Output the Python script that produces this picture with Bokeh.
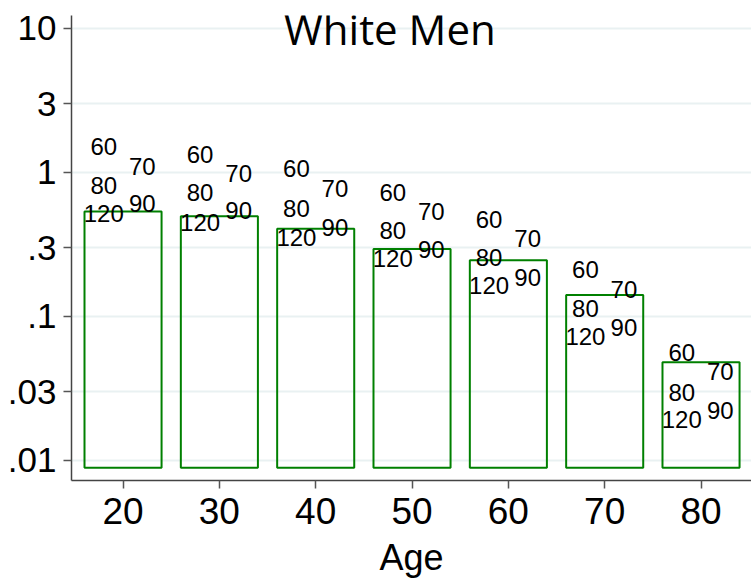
from bokeh.plotting import figure
from bokeh.models import ColumnDataSource, FixedTicker, Range1d, Label
from bokeh.core.properties import value
from bokeh.embed import file_html
from bokeh.resources import INLINE

# Age groups and the bar heights (rate, log scale)
ages = [20, 30, 40, 50, 60, 70, 80]
bar_tops = [0.536, 0.497, 0.406, 0.294, 0.246, 0.141, 0.048]
bar_base = 0.0089

# Rates by blood-pressure level, drawn as text markers per age group
bp_levels = ["60", "70", "80", "90", "120"]
rates = {
    "60":  [1.52, 1.33, 1.06, 0.730, 0.472, 0.211, 0.056],
    "70":  [1.106, 0.989, 0.774, 0.536, 0.350, 0.153, 0.0415],
    "80":  [0.812, 0.730, 0.560, 0.396, 0.258, 0.113, 0.0298],
    "90":  [0.606, 0.545, 0.415, 0.291, 0.187, 0.0835, 0.0222],
    "120": [0.522, 0.452, 0.355, 0.254, 0.164, 0.073, 0.0192],
}
# left / right column of each bar for the text markers
label_side = {"60": -2.0, "80": -2.0, "120": -2.0, "70": 2.0, "90": 2.0}

y_ticks = [0.01, 0.03, 0.1, 0.3, 1, 3, 10]
y_tick_labels = [".01", ".03", ".1", ".3", "1", "3", "10"]

p = figure(
    width=751, height=581,
    x_range=Range1d(14.65, 85.24),
    y_range=Range1d(0.00726, 12.3),
    y_axis_type="log",
    output_backend="svg", toolbar_location=None,
    min_border_left=71, min_border_right=0,
    min_border_top=15, min_border_bottom=101,
)
p.outline_line_color = None
p.background_fill_color = "white"
p.border_fill_color = "white"

# bars
src = ColumnDataSource(dict(age=ages, top=bar_tops, bottom=[bar_base] * len(ages)))
p.vbar(x="age", top="top", bottom="bottom", width=8, source=src,
       fill_color=None, line_color="#008000", line_width=2)

# text markers
for lvl in bp_levels:
    s = ColumnDataSource(dict(x=[a + label_side[lvl] for a in ages], y=rates[lvl],
                              t=[lvl] * len(ages)))
    p.text(x="x", y="y", text="t", source=s,
           text_font=value("Liberation Sans"), text_font_size="24px",
           text_align="center", text_baseline="middle", text_color="black")

# axes
p.yaxis.ticker = FixedTicker(ticks=y_ticks)
p.yaxis.major_label_overrides = {t: l for t, l in zip(y_ticks, y_tick_labels)}
p.xaxis.ticker = FixedTicker(ticks=ages)
for ax in (p.xaxis, p.yaxis):
    ax.major_label_text_font = "Liberation Sans"
    ax.major_label_text_color = "black"
    ax.axis_line_color = "#444444"
    ax.axis_line_width = 1.5
    ax.major_tick_line_color = "#555555"
    ax.major_tick_line_width = 1.5
    ax.major_tick_out = 8
    ax.major_tick_in = 0
    ax.minor_tick_line_color = None
p.yaxis.major_label_text_font_size = "35px"
p.xaxis.major_label_text_font_size = "37px"
p.yaxis.major_label_standoff = 7
p.xaxis.major_label_standoff = 9
p.xaxis.axis_label = "Age"
p.xaxis.axis_label_text_font = "Liberation Sans"
p.xaxis.axis_label_text_font_size = "36px"
p.xaxis.axis_label_text_font_style = "normal"
p.xaxis.axis_label_text_color = "black"
p.xaxis.axis_label_standoff = 10

# grid
p.xgrid.grid_line_color = None
p.ygrid.grid_line_color = "#e9f1f2"
p.ygrid.grid_line_width = 2

# title inside the plot area
p.add_layout(Label(x=47.7, y=10.0, text="White Men", text_align="center",
                   text_baseline="middle", text_font="Open Sans",
                   text_font_size="42px", text_color="black"))

open("out.html", "w").write(file_html(p, INLINE))
